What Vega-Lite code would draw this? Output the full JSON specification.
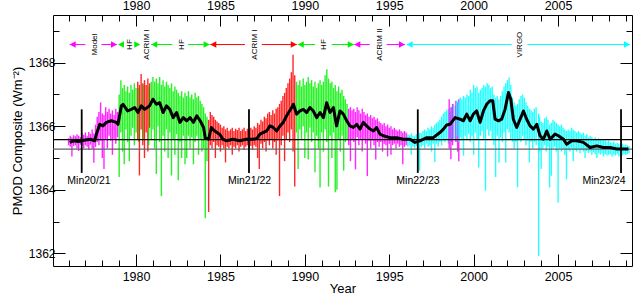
{
"$schema": "https://vega.github.io/schema/vega-lite/v6.json",
"width": 579, "height": 251,
"autosize": {"type": "none"},
"padding": {"left": 53, "top": 15, "right": 2, "bottom": 31},
"background": "white",
"config": {"view": {"stroke": null}, "axis": {"grid": false, "domainColor": "black", "tickColor": "black", "labelColor": "black", "titleColor": "black", "labelFont": "Liberation Sans", "titleFont": "Liberation Sans", "titleFontWeight": "normal", "labelFlush": false}, "text": {"font": "Liberation Sans"}},
"datasets": {
"ts": [
{"t":1976.0,"lo":1365.40,"hi":1365.62,"c":"M"},{"t":1976.1,"lo":1365.35,"hi":1365.70,"c":"M"},{"t":1976.2,"lo":1365.05,"hi":1365.65,"c":"M"},{"t":1976.3,"lo":1365.38,"hi":1365.72,"c":"M"},{"t":1976.4,"lo":1365.40,"hi":1365.68,"c":"M"},{"t":1976.5,"lo":1365.30,"hi":1365.75,"c":"M"},{"t":1976.6,"lo":1365.22,"hi":1365.70,"c":"M"},{"t":1976.7,"lo":1365.42,"hi":1365.66,"c":"M"},{"t":1976.8,"lo":1365.38,"hi":1365.78,"c":"M"},{"t":1976.9,"lo":1365.30,"hi":1365.72,"c":"M"},
{"t":1977.0,"lo":1365.40,"hi":1365.80,"c":"M"},{"t":1977.1,"lo":1365.35,"hi":1365.70,"c":"M"},{"t":1977.2,"lo":1365.25,"hi":1365.82,"c":"M"},{"t":1977.3,"lo":1365.42,"hi":1365.76,"c":"M"},{"t":1977.4,"lo":1365.30,"hi":1365.90,"c":"M"},{"t":1977.5,"lo":1364.85,"hi":1365.78,"c":"M"},{"t":1977.6,"lo":1365.35,"hi":1366.05,"c":"M"},{"t":1977.7,"lo":1365.50,"hi":1366.30,"c":"M"},{"t":1977.8,"lo":1365.40,"hi":1366.45,"c":"M"},{"t":1977.9,"lo":1365.55,"hi":1366.75,"c":"M"},
{"t":1978.0,"lo":1365.00,"hi":1366.40,"c":"M"},{"t":1978.1,"lo":1364.65,"hi":1366.35,"c":"M"},{"t":1978.2,"lo":1365.60,"hi":1366.60,"c":"M"},{"t":1978.3,"lo":1365.30,"hi":1366.45,"c":"M"},{"t":1978.4,"lo":1365.70,"hi":1366.55,"c":"M"},{"t":1978.5,"lo":1365.55,"hi":1366.40,"c":"M"},{"t":1978.6,"lo":1365.10,"hi":1366.50,"c":"M"},{"t":1978.7,"lo":1365.60,"hi":1366.35,"c":"M"},{"t":1978.8,"lo":1365.45,"hi":1366.55,"c":"M"},{"t":1978.9,"lo":1365.65,"hi":1366.45,"c":"M"},
{"t":1979.0,"lo":1364.40,"hi":1367.00,"c":"H"},{"t":1979.1,"lo":1365.80,"hi":1367.45,"c":"H"},{"t":1979.2,"lo":1365.20,"hi":1367.20,"c":"H"},{"t":1979.3,"lo":1364.80,"hi":1367.30,"c":"H"},{"t":1979.4,"lo":1365.90,"hi":1367.10,"c":"H"},{"t":1979.5,"lo":1365.50,"hi":1367.25,"c":"H"},{"t":1979.6,"lo":1364.90,"hi":1367.05,"c":"H"},{"t":1979.7,"lo":1365.70,"hi":1367.30,"c":"H"},{"t":1979.8,"lo":1365.95,"hi":1367.15,"c":"H"},{"t":1979.9,"lo":1365.40,"hi":1367.35,"c":"H"},
{"t":1980.0,"lo":1365.80,"hi":1367.20,"c":"H"},{"t":1980.1,"lo":1365.60,"hi":1367.40,"c":"A"},{"t":1980.15,"lo":1365.50,"hi":1367.20,"c":"H"},{"t":1980.2,"lo":1364.45,"hi":1367.30,"c":"A"},{"t":1980.3,"lo":1365.90,"hi":1367.64,"c":"A"},{"t":1980.4,"lo":1365.40,"hi":1367.35,"c":"A"},{"t":1980.45,"lo":1365.60,"hi":1367.30,"c":"H"},{"t":1980.5,"lo":1365.00,"hi":1367.45,"c":"A"},{"t":1980.6,"lo":1365.80,"hi":1367.30,"c":"A"},{"t":1980.7,"lo":1365.20,"hi":1367.50,"c":"A"},{"t":1980.75,"lo":1365.40,"hi":1367.25,"c":"H"},{"t":1980.8,"lo":1365.95,"hi":1367.35,"c":"A"},{"t":1980.9,"lo":1365.60,"hi":1367.40,"c":"H"},
{"t":1981.0,"lo":1365.90,"hi":1367.55,"c":"H"},{"t":1981.1,"lo":1365.30,"hi":1367.40,"c":"H"},{"t":1981.2,"lo":1364.50,"hi":1367.50,"c":"H"},{"t":1981.3,"lo":1366.00,"hi":1367.35,"c":"H"},{"t":1981.4,"lo":1365.50,"hi":1367.55,"c":"H"},{"t":1981.5,"lo":1363.80,"hi":1367.30,"c":"H"},{"t":1981.6,"lo":1365.70,"hi":1367.45,"c":"H"},{"t":1981.7,"lo":1365.20,"hi":1367.25,"c":"H"},{"t":1981.8,"lo":1365.90,"hi":1367.40,"c":"H"},{"t":1981.9,"lo":1365.00,"hi":1367.30,"c":"H"},
{"t":1982.0,"lo":1365.80,"hi":1367.20,"c":"H"},{"t":1982.1,"lo":1364.45,"hi":1367.35,"c":"H"},{"t":1982.2,"lo":1365.60,"hi":1367.10,"c":"H"},{"t":1982.3,"lo":1365.10,"hi":1367.25,"c":"H"},{"t":1982.4,"lo":1365.75,"hi":1367.15,"c":"H"},{"t":1982.5,"lo":1364.30,"hi":1367.05,"c":"H"},{"t":1982.6,"lo":1365.50,"hi":1366.95,"c":"H"},{"t":1982.7,"lo":1365.00,"hi":1367.10,"c":"H"},{"t":1982.8,"lo":1365.70,"hi":1366.90,"c":"H"},{"t":1982.9,"lo":1364.80,"hi":1367.05,"c":"H"},
{"t":1983.0,"lo":1365.00,"hi":1366.95,"c":"H"},{"t":1983.1,"lo":1365.70,"hi":1367.10,"c":"H"},{"t":1983.2,"lo":1365.30,"hi":1366.90,"c":"H"},{"t":1983.3,"lo":1365.65,"hi":1367.00,"c":"H"},{"t":1983.4,"lo":1364.80,"hi":1366.85,"c":"H"},{"t":1983.5,"lo":1365.50,"hi":1367.05,"c":"H"},{"t":1983.6,"lo":1365.70,"hi":1366.90,"c":"H"},{"t":1983.7,"lo":1365.10,"hi":1366.95,"c":"H"},{"t":1983.8,"lo":1365.60,"hi":1366.80,"c":"H"},{"t":1983.9,"lo":1365.20,"hi":1366.70,"c":"H"},
{"t":1984.0,"lo":1365.30,"hi":1366.60,"c":"H"},{"t":1984.1,"lo":1363.10,"hi":1366.40,"c":"H"},{"t":1984.2,"lo":1364.90,"hi":1366.30,"c":"H"},{"t":1984.3,"lo":1363.30,"hi":1366.20,"c":"A"},{"t":1984.4,"lo":1365.40,"hi":1366.45,"c":"A"},{"t":1984.5,"lo":1365.30,"hi":1366.35,"c":"A"},{"t":1984.6,"lo":1365.50,"hi":1366.30,"c":"A"},{"t":1984.7,"lo":1365.00,"hi":1366.20,"c":"A"},{"t":1984.8,"lo":1365.40,"hi":1366.15,"c":"A"},{"t":1984.9,"lo":1365.35,"hi":1366.10,"c":"A"},
{"t":1985.0,"lo":1365.20,"hi":1366.05,"c":"A"},{"t":1985.1,"lo":1365.40,"hi":1365.95,"c":"A"},{"t":1985.2,"lo":1365.30,"hi":1366.00,"c":"A"},{"t":1985.3,"lo":1364.86,"hi":1365.90,"c":"A"},{"t":1985.4,"lo":1365.35,"hi":1365.95,"c":"A"},{"t":1985.5,"lo":1365.30,"hi":1365.85,"c":"A"},{"t":1985.6,"lo":1365.40,"hi":1365.90,"c":"A"},{"t":1985.7,"lo":1365.10,"hi":1365.95,"c":"A"},{"t":1985.8,"lo":1365.35,"hi":1365.85,"c":"A"},{"t":1985.9,"lo":1365.30,"hi":1365.92,"c":"A"},
{"t":1986.0,"lo":1365.40,"hi":1365.88,"c":"A"},{"t":1986.1,"lo":1365.20,"hi":1365.95,"c":"A"},{"t":1986.2,"lo":1365.35,"hi":1365.85,"c":"A"},{"t":1986.3,"lo":1365.40,"hi":1365.90,"c":"A"},{"t":1986.4,"lo":1365.25,"hi":1365.95,"c":"A"},{"t":1986.5,"lo":1365.35,"hi":1365.85,"c":"A"},{"t":1986.6,"lo":1365.40,"hi":1365.92,"c":"A"},{"t":1986.7,"lo":1365.30,"hi":1365.88,"c":"A"},{"t":1986.8,"lo":1365.38,"hi":1365.95,"c":"A"},{"t":1986.9,"lo":1365.25,"hi":1365.90,"c":"A"},
{"t":1987.0,"lo":1365.40,"hi":1366.00,"c":"A"},{"t":1987.1,"lo":1365.35,"hi":1365.95,"c":"A"},{"t":1987.2,"lo":1365.00,"hi":1366.10,"c":"A"},{"t":1987.3,"lo":1364.65,"hi":1366.05,"c":"A"},{"t":1987.4,"lo":1365.45,"hi":1366.20,"c":"A"},{"t":1987.5,"lo":1365.30,"hi":1366.15,"c":"A"},{"t":1987.6,"lo":1365.50,"hi":1366.30,"c":"A"},{"t":1987.7,"lo":1365.20,"hi":1366.25,"c":"A"},{"t":1987.8,"lo":1365.55,"hi":1366.40,"c":"A"},{"t":1987.9,"lo":1365.40,"hi":1366.45,"c":"A"},
{"t":1988.0,"lo":1365.60,"hi":1366.35,"c":"A"},{"t":1988.1,"lo":1365.30,"hi":1366.50,"c":"A"},{"t":1988.2,"lo":1365.50,"hi":1366.40,"c":"A"},{"t":1988.3,"lo":1365.10,"hi":1366.55,"c":"A"},{"t":1988.4,"lo":1365.55,"hi":1366.60,"c":"A"},{"t":1988.5,"lo":1363.80,"hi":1366.70,"c":"A"},{"t":1988.6,"lo":1365.40,"hi":1366.80,"c":"A"},{"t":1988.7,"lo":1365.70,"hi":1366.95,"c":"A"},{"t":1988.8,"lo":1364.90,"hi":1367.05,"c":"A"},{"t":1988.9,"lo":1365.60,"hi":1367.20,"c":"A"},
{"t":1989.0,"lo":1365.80,"hi":1367.35,"c":"A"},{"t":1989.1,"lo":1365.50,"hi":1367.50,"c":"A"},{"t":1989.2,"lo":1365.90,"hi":1367.70,"c":"A"},{"t":1989.3,"lo":1365.20,"hi":1368.25,"c":"A"},{"t":1989.4,"lo":1364.10,"hi":1367.60,"c":"A"},{"t":1989.5,"lo":1365.80,"hi":1367.40,"c":"H"},{"t":1989.6,"lo":1364.65,"hi":1367.30,"c":"H"},{"t":1989.7,"lo":1365.90,"hi":1367.45,"c":"H"},{"t":1989.8,"lo":1365.60,"hi":1367.25,"c":"H"},{"t":1989.9,"lo":1366.00,"hi":1367.50,"c":"H"},
{"t":1990.0,"lo":1365.00,"hi":1367.30,"c":"H"},{"t":1990.1,"lo":1365.80,"hi":1367.40,"c":"H"},{"t":1990.2,"lo":1364.95,"hi":1367.55,"c":"H"},{"t":1990.3,"lo":1365.95,"hi":1367.35,"c":"H"},{"t":1990.4,"lo":1365.50,"hi":1367.45,"c":"H"},{"t":1990.5,"lo":1365.80,"hi":1367.25,"c":"H"},{"t":1990.6,"lo":1364.55,"hi":1367.40,"c":"H"},{"t":1990.7,"lo":1365.70,"hi":1367.20,"c":"H"},{"t":1990.8,"lo":1365.30,"hi":1367.35,"c":"H"},{"t":1990.9,"lo":1364.07,"hi":1367.45,"c":"H"},
{"t":1991.0,"lo":1365.80,"hi":1367.30,"c":"H"},{"t":1991.1,"lo":1365.20,"hi":1367.40,"c":"H"},{"t":1991.2,"lo":1365.90,"hi":1367.60,"c":"H"},{"t":1991.3,"lo":1365.50,"hi":1367.79,"c":"H"},{"t":1991.4,"lo":1364.10,"hi":1367.50,"c":"H"},{"t":1991.5,"lo":1365.70,"hi":1367.35,"c":"H"},{"t":1991.6,"lo":1365.00,"hi":1367.40,"c":"H"},{"t":1991.7,"lo":1365.80,"hi":1367.20,"c":"H"},{"t":1991.8,"lo":1363.92,"hi":1367.30,"c":"H"},{"t":1991.9,"lo":1364.00,"hi":1367.10,"c":"H"},
{"t":1992.0,"lo":1365.60,"hi":1367.25,"c":"H"},{"t":1992.1,"lo":1365.20,"hi":1367.05,"c":"H"},{"t":1992.2,"lo":1365.70,"hi":1367.15,"c":"H"},{"t":1992.3,"lo":1364.60,"hi":1366.95,"c":"H"},{"t":1992.4,"lo":1365.50,"hi":1366.85,"c":"H"},{"t":1992.5,"lo":1365.60,"hi":1366.70,"c":"H"},{"t":1992.6,"lo":1365.40,"hi":1366.55,"c":"M"},{"t":1992.7,"lo":1364.90,"hi":1366.60,"c":"M"},{"t":1992.8,"lo":1365.60,"hi":1366.50,"c":"M"},{"t":1992.9,"lo":1365.50,"hi":1366.55,"c":"M"},
{"t":1993.0,"lo":1364.64,"hi":1366.45,"c":"M"},{"t":1993.1,"lo":1365.65,"hi":1366.60,"c":"M"},{"t":1993.2,"lo":1365.40,"hi":1366.50,"c":"M"},{"t":1993.3,"lo":1365.60,"hi":1366.40,"c":"M"},{"t":1993.4,"lo":1365.20,"hi":1366.55,"c":"M"},{"t":1993.5,"lo":1365.60,"hi":1366.45,"c":"M"},{"t":1993.6,"lo":1365.45,"hi":1366.35,"c":"M"},{"t":1993.7,"lo":1364.43,"hi":1366.40,"c":"M"},{"t":1993.8,"lo":1365.55,"hi":1366.30,"c":"M"},{"t":1993.9,"lo":1365.30,"hi":1366.35,"c":"M"},
{"t":1994.0,"lo":1365.55,"hi":1366.25,"c":"M"},{"t":1994.1,"lo":1365.40,"hi":1366.30,"c":"M"},{"t":1994.2,"lo":1364.95,"hi":1366.20,"c":"M"},{"t":1994.3,"lo":1365.50,"hi":1366.25,"c":"M"},{"t":1994.4,"lo":1365.35,"hi":1366.15,"c":"M"},{"t":1994.5,"lo":1365.50,"hi":1366.10,"c":"M"},{"t":1994.6,"lo":1365.20,"hi":1366.05,"c":"M"},{"t":1994.7,"lo":1365.45,"hi":1366.10,"c":"M"},{"t":1994.8,"lo":1365.40,"hi":1366.00,"c":"M"},{"t":1994.9,"lo":1365.05,"hi":1366.05,"c":"M"},
{"t":1995.0,"lo":1365.45,"hi":1365.95,"c":"M"},{"t":1995.1,"lo":1365.10,"hi":1366.00,"c":"M"},{"t":1995.2,"lo":1365.40,"hi":1365.90,"c":"M"},{"t":1995.3,"lo":1365.45,"hi":1365.95,"c":"M"},{"t":1995.4,"lo":1365.30,"hi":1365.90,"c":"M"},{"t":1995.5,"lo":1365.45,"hi":1365.85,"c":"M"},{"t":1995.6,"lo":1365.35,"hi":1365.90,"c":"M"},{"t":1995.7,"lo":1365.40,"hi":1365.85,"c":"M"},{"t":1995.8,"lo":1364.80,"hi":1365.80,"c":"M"},{"t":1995.9,"lo":1365.35,"hi":1365.85,"c":"M"},
{"t":1996.0,"lo":1365.40,"hi":1365.80,"c":"M"},{"t":1996.1,"lo":1365.35,"hi":1365.75,"c":"V"},{"t":1996.2,"lo":1365.40,"hi":1365.72,"c":"V"},{"t":1996.3,"lo":1365.10,"hi":1365.78,"c":"V"},{"t":1996.4,"lo":1365.35,"hi":1365.70,"c":"V"},{"t":1996.5,"lo":1365.30,"hi":1365.68,"c":"V"},{"t":1996.6,"lo":1365.38,"hi":1365.75,"c":"V"},{"t":1996.7,"lo":1365.25,"hi":1365.72,"c":"V"},{"t":1996.8,"lo":1364.60,"hi":1365.80,"c":"V"},{"t":1996.9,"lo":1365.35,"hi":1365.78,"c":"V"},
{"t":1997.0,"lo":1365.40,"hi":1365.85,"c":"V"},{"t":1997.1,"lo":1365.30,"hi":1365.90,"c":"V"},{"t":1997.2,"lo":1365.45,"hi":1365.85,"c":"V"},{"t":1997.3,"lo":1365.35,"hi":1365.95,"c":"V"},{"t":1997.4,"lo":1365.40,"hi":1365.90,"c":"V"},{"t":1997.5,"lo":1365.20,"hi":1366.00,"c":"V"},{"t":1997.6,"lo":1365.45,"hi":1365.95,"c":"V"},{"t":1997.7,"lo":1364.87,"hi":1366.05,"c":"V"},{"t":1997.8,"lo":1365.45,"hi":1366.10,"c":"V"},{"t":1997.9,"lo":1365.35,"hi":1366.15,"c":"V"},
{"t":1998.0,"lo":1365.50,"hi":1366.20,"c":"V"},{"t":1998.1,"lo":1365.40,"hi":1366.30,"c":"V"},{"t":1998.2,"lo":1365.55,"hi":1366.40,"c":"V"},{"t":1998.3,"lo":1365.50,"hi":1366.45,"c":"V"},{"t":1998.4,"lo":1365.60,"hi":1366.50,"c":"V"},{"t":1998.5,"lo":1365.45,"hi":1366.55,"c":"V"},{"t":1998.6,"lo":1365.65,"hi":1366.45,"c":"V"},{"t":1998.7,"lo":1365.50,"hi":1366.60,"c":"V"},{"t":1998.8,"lo":1365.60,"hi":1366.70,"c":"V"},{"t":1998.9,"lo":1365.55,"hi":1366.65,"c":"V"},
{"t":1998.55,"lo":1365.30,"hi":1366.85,"c":"M"},{"t":1998.65,"lo":1364.96,"hi":1366.60,"c":"M"},{"t":1998.75,"lo":1365.40,"hi":1366.70,"c":"M"},{"t":1998.95,"lo":1365.50,"hi":1366.80,"c":"M"},{"t":1999.05,"lo":1365.20,"hi":1366.75,"c":"M"},{"t":1999.12,"lo":1364.90,"hi":1366.85,"c":"M"},
{"t":1999.0,"lo":1365.70,"hi":1366.80,"c":"V"},{"t":1999.1,"lo":1365.50,"hi":1366.75,"c":"V"},{"t":1999.2,"lo":1365.65,"hi":1366.90,"c":"V"},{"t":1999.3,"lo":1365.55,"hi":1366.85,"c":"V"},{"t":1999.4,"lo":1365.07,"hi":1366.95,"c":"V"},{"t":1999.5,"lo":1365.70,"hi":1366.90,"c":"V"},{"t":1999.6,"lo":1365.60,"hi":1367.00,"c":"V"},{"t":1999.7,"lo":1365.75,"hi":1366.95,"c":"V"},{"t":1999.8,"lo":1365.50,"hi":1367.15,"c":"V"},{"t":1999.9,"lo":1365.70,"hi":1367.05,"c":"V"},
{"t":2000.0,"lo":1365.10,"hi":1367.30,"c":"V"},{"t":2000.1,"lo":1365.80,"hi":1367.20,"c":"V"},{"t":2000.2,"lo":1365.60,"hi":1367.25,"c":"V"},{"t":2000.3,"lo":1364.70,"hi":1367.05,"c":"V"},{"t":2000.4,"lo":1365.70,"hi":1367.15,"c":"V"},{"t":2000.5,"lo":1365.85,"hi":1367.20,"c":"V"},{"t":2000.6,"lo":1365.60,"hi":1367.30,"c":"V"},{"t":2000.7,"lo":1363.97,"hi":1367.25,"c":"V"},{"t":2000.8,"lo":1365.90,"hi":1367.35,"c":"V"},{"t":2000.9,"lo":1365.70,"hi":1367.30,"c":"V"},
{"t":2001.0,"lo":1365.85,"hi":1367.20,"c":"V"},{"t":2001.1,"lo":1365.60,"hi":1367.25,"c":"V"},{"t":2001.2,"lo":1365.40,"hi":1367.00,"c":"V"},{"t":2001.3,"lo":1364.40,"hi":1366.90,"c":"V"},{"t":2001.4,"lo":1365.70,"hi":1366.95,"c":"V"},{"t":2001.5,"lo":1364.86,"hi":1366.85,"c":"V"},{"t":2001.6,"lo":1365.65,"hi":1366.95,"c":"V"},{"t":2001.7,"lo":1365.50,"hi":1367.10,"c":"V"},{"t":2001.8,"lo":1365.80,"hi":1367.25,"c":"V"},{"t":2001.9,"lo":1364.86,"hi":1367.35,"c":"V"},
{"t":2002.0,"lo":1365.90,"hi":1367.45,"c":"V"},{"t":2002.1,"lo":1365.80,"hi":1367.53,"c":"V"},{"t":2002.2,"lo":1365.60,"hi":1367.30,"c":"V"},{"t":2002.3,"lo":1365.50,"hi":1366.90,"c":"V"},{"t":2002.4,"lo":1365.30,"hi":1366.75,"c":"V"},{"t":2002.5,"lo":1365.50,"hi":1366.65,"c":"V"},{"t":2002.6,"lo":1364.08,"hi":1366.70,"c":"V"},{"t":2002.7,"lo":1365.60,"hi":1366.85,"c":"V"},{"t":2002.8,"lo":1365.50,"hi":1366.95,"c":"V"},{"t":2002.9,"lo":1365.70,"hi":1367.00,"c":"V"},
{"t":2003.0,"lo":1365.60,"hi":1366.90,"c":"V"},{"t":2003.1,"lo":1365.40,"hi":1366.75,"c":"V"},{"t":2003.2,"lo":1365.55,"hi":1366.65,"c":"V"},{"t":2003.3,"lo":1364.86,"hi":1366.55,"c":"V"},{"t":2003.4,"lo":1365.50,"hi":1366.50,"c":"V"},{"t":2003.5,"lo":1365.30,"hi":1366.45,"c":"V"},{"t":2003.6,"lo":1365.50,"hi":1366.55,"c":"V"},{"t":2003.7,"lo":1365.40,"hi":1366.60,"c":"V"},{"t":2003.85,"lo":1361.91,"hi":1366.40,"c":"V"},{"t":2003.9,"lo":1365.20,"hi":1366.30,"c":"V"},
{"t":2004.0,"lo":1364.65,"hi":1366.15,"c":"V"},{"t":2004.1,"lo":1365.30,"hi":1366.10,"c":"V"},{"t":2004.2,"lo":1365.40,"hi":1366.25,"c":"V"},{"t":2004.3,"lo":1365.20,"hi":1366.30,"c":"V"},{"t":2004.4,"lo":1365.35,"hi":1366.20,"c":"V"},{"t":2004.5,"lo":1364.07,"hi":1366.05,"c":"V"},{"t":2004.6,"lo":1364.44,"hi":1366.10,"c":"V"},{"t":2004.7,"lo":1365.30,"hi":1366.20,"c":"V"},{"t":2004.8,"lo":1365.35,"hi":1366.15,"c":"V"},{"t":2004.9,"lo":1365.20,"hi":1366.10,"c":"V"},
{"t":2005.0,"lo":1363.60,"hi":1366.05,"c":"V"},{"t":2005.1,"lo":1365.30,"hi":1366.00,"c":"V"},{"t":2005.2,"lo":1365.20,"hi":1366.05,"c":"V"},{"t":2005.3,"lo":1365.30,"hi":1365.95,"c":"V"},{"t":2005.4,"lo":1365.10,"hi":1365.90,"c":"V"},{"t":2005.5,"lo":1364.33,"hi":1365.85,"c":"V"},{"t":2005.6,"lo":1365.25,"hi":1365.90,"c":"V"},{"t":2005.7,"lo":1365.20,"hi":1365.85,"c":"V"},{"t":2005.8,"lo":1365.30,"hi":1365.95,"c":"V"},{"t":2005.9,"lo":1364.90,"hi":1365.90,"c":"V"},
{"t":2006.0,"lo":1365.25,"hi":1365.85,"c":"V"},{"t":2006.1,"lo":1365.20,"hi":1365.80,"c":"V"},{"t":2006.2,"lo":1365.28,"hi":1365.85,"c":"V"},{"t":2006.3,"lo":1365.15,"hi":1365.80,"c":"V"},{"t":2006.4,"lo":1365.25,"hi":1365.75,"c":"V"},{"t":2006.5,"lo":1365.20,"hi":1365.80,"c":"V"},{"t":2006.6,"lo":1365.00,"hi":1365.70,"c":"V"},{"t":2006.7,"lo":1365.22,"hi":1365.75,"c":"V"},{"t":2006.8,"lo":1365.15,"hi":1365.65,"c":"V"},{"t":2006.9,"lo":1365.20,"hi":1365.70,"c":"V"},
{"t":2007.0,"lo":1365.10,"hi":1365.65,"c":"V"},{"t":2007.1,"lo":1365.18,"hi":1365.60,"c":"V"},{"t":2007.2,"lo":1365.12,"hi":1365.65,"c":"V"},{"t":2007.3,"lo":1365.00,"hi":1365.60,"c":"V"},{"t":2007.4,"lo":1365.15,"hi":1365.62,"c":"V"},{"t":2007.5,"lo":1365.10,"hi":1365.58,"c":"V"},{"t":2007.6,"lo":1365.15,"hi":1365.55,"c":"V"},{"t":2007.7,"lo":1365.05,"hi":1365.60,"c":"V"},{"t":2007.8,"lo":1365.12,"hi":1365.55,"c":"V"},{"t":2007.9,"lo":1365.08,"hi":1365.52,"c":"V"},
{"t":2008.0,"lo":1365.10,"hi":1365.55,"c":"V"},{"t":2008.1,"lo":1365.12,"hi":1365.50,"c":"V"},{"t":2008.2,"lo":1365.05,"hi":1365.48,"c":"V"},{"t":2008.3,"lo":1365.10,"hi":1365.52,"c":"V"},{"t":2008.4,"lo":1365.08,"hi":1365.45,"c":"V"},{"t":2008.5,"lo":1365.12,"hi":1365.48,"c":"V"},{"t":2008.6,"lo":1365.05,"hi":1365.45,"c":"V"},{"t":2008.7,"lo":1365.10,"hi":1365.42,"c":"V"},{"t":2008.8,"lo":1365.08,"hi":1365.45,"c":"V"},{"t":2008.9,"lo":1365.12,"hi":1365.40,"c":"V"},
{"t":2009.0,"lo":1365.10,"hi":1365.42,"c":"V"},{"t":2009.1,"lo":1365.12,"hi":1365.40,"c":"V"},{"t":2009.2,"lo":1365.15,"hi":1365.38,"c":"V"}
],
"sm": [
{"t":1976.07,"s":1365.49},{"t":1976.3,"s":1365.54},{"t":1976.6,"s":1365.52},{"t":1976.9,"s":1365.56},{"t":1977.3,"s":1365.59},{"t":1977.55,"s":1365.54},{"t":1977.65,"s":1365.75},{"t":1977.85,"s":1366.06},{"t":1978.04,"s":1366.01},{"t":1978.24,"s":1366.12},{"t":1978.54,"s":1366.17},{"t":1978.83,"s":1366.12},{"t":1978.93,"s":1366.06},
{"t":1979.13,"s":1366.64},{"t":1979.23,"s":1366.69},{"t":1979.5,"s":1366.48},{"t":1979.72,"s":1366.53},{"t":1979.92,"s":1366.59},{"t":1980.11,"s":1366.43},{"t":1980.31,"s":1366.64},{"t":1980.51,"s":1366.53},{"t":1980.8,"s":1366.64},{"t":1981.0,"s":1366.85},{"t":1981.2,"s":1366.69},{"t":1981.4,"s":1366.74},{"t":1981.6,"s":1366.43},{"t":1981.8,"s":1366.64},
{"t":1982.0,"s":1366.53},{"t":1982.2,"s":1366.27},{"t":1982.4,"s":1366.43},{"t":1982.6,"s":1366.12},{"t":1982.8,"s":1366.27},{"t":1983.0,"s":1366.17},{"t":1983.2,"s":1366.27},{"t":1983.4,"s":1366.12},{"t":1983.6,"s":1366.33},{"t":1983.8,"s":1366.17},{"t":1984.0,"s":1365.96},{"t":1984.1,"s":1365.64},{"t":1984.3,"s":1365.59},{"t":1984.46,"s":1365.96},{"t":1984.66,"s":1365.85},{"t":1984.95,"s":1365.75},
{"t":1985.15,"s":1365.59},{"t":1985.35,"s":1365.54},{"t":1985.74,"s":1365.59},{"t":1986.14,"s":1365.54},{"t":1986.53,"s":1365.59},{"t":1986.93,"s":1365.59},{"t":1987.15,"s":1365.61},{"t":1987.34,"s":1365.75},{"t":1987.74,"s":1365.85},{"t":1987.93,"s":1366.01},{"t":1988.13,"s":1365.96},{"t":1988.33,"s":1365.85},{"t":1988.53,"s":1366.01},{"t":1988.72,"s":1366.12},{"t":1988.92,"s":1366.33},
{"t":1989.22,"s":1366.59},{"t":1989.32,"s":1366.69},{"t":1989.51,"s":1366.38},{"t":1989.71,"s":1366.48},{"t":1989.91,"s":1366.53},{"t":1990.11,"s":1366.43},{"t":1990.3,"s":1366.59},{"t":1990.5,"s":1366.48},{"t":1990.7,"s":1366.27},{"t":1990.9,"s":1366.43},{"t":1991.1,"s":1366.27},{"t":1991.29,"s":1366.74},{"t":1991.49,"s":1366.43},{"t":1991.69,"s":1366.59},{"t":1991.88,"s":1366.01},
{"t":1992.08,"s":1366.48},{"t":1992.28,"s":1366.38},{"t":1992.48,"s":1366.17},{"t":1992.67,"s":1366.01},{"t":1992.87,"s":1365.96},{"t":1993.07,"s":1366.06},{"t":1993.27,"s":1365.91},{"t":1993.46,"s":1366.12},{"t":1993.66,"s":1366.01},{"t":1993.86,"s":1365.91},{"t":1994.06,"s":1365.85},{"t":1994.25,"s":1365.96},{"t":1994.45,"s":1365.75},{"t":1994.65,"s":1365.70},
{"t":1995.04,"s":1365.64},{"t":1995.44,"s":1365.64},{"t":1995.83,"s":1365.59},{"t":1996.23,"s":1365.59},{"t":1996.52,"s":1365.49},{"t":1996.82,"s":1365.54},{"t":1997.22,"s":1365.64},{"t":1997.61,"s":1365.64},{"t":1998.0,"s":1365.80},{"t":1998.21,"s":1365.91},{"t":1998.4,"s":1366.04},{"t":1998.6,"s":1366.06},{"t":1998.9,"s":1366.27},
{"t":1999.2,"s":1366.22},{"t":1999.39,"s":1366.17},{"t":1999.59,"s":1366.38},{"t":1999.79,"s":1366.17},{"t":1999.98,"s":1366.38},{"t":2000.18,"s":1366.48},{"t":2000.38,"s":1366.12},{"t":2000.58,"s":1366.48},{"t":2000.77,"s":1366.69},{"t":2000.97,"s":1366.80},{"t":2001.13,"s":1366.80},{"t":2001.27,"s":1366.22},{"t":2001.47,"s":1366.17},{"t":2001.66,"s":1366.22},{"t":2001.86,"s":1366.53},
{"t":2002.06,"s":1367.06},{"t":2002.2,"s":1366.85},{"t":2002.35,"s":1366.22},{"t":2002.55,"s":1365.96},{"t":2002.75,"s":1366.22},{"t":2002.95,"s":1366.48},{"t":2003.14,"s":1366.22},{"t":2003.34,"s":1366.01},{"t":2003.54,"s":1365.91},{"t":2003.74,"s":1366.06},{"t":2003.93,"s":1365.70},{"t":2004.13,"s":1365.59},{"t":2004.33,"s":1365.85},{"t":2004.53,"s":1365.59},{"t":2004.82,"s":1365.75},
{"t":2005.02,"s":1365.70},{"t":2005.32,"s":1365.59},{"t":2005.51,"s":1365.43},{"t":2005.81,"s":1365.54},{"t":2006.1,"s":1365.54},{"t":2006.5,"s":1365.49},{"t":2006.9,"s":1365.33},{"t":2007.29,"s":1365.38},{"t":2007.69,"s":1365.33},{"t":2008.08,"s":1365.33},{"t":2008.48,"s":1365.28},{"t":2008.87,"s":1365.28},{"t":2009.17,"s":1365.28}
],
"hl": [{"v":1365.58,"k":"a"},{"v":1365.28,"k":"b"}],
"mins": [
{"x":1976.78,"y1":1366.53,"y2":1364.53,"lx":1977.21,"ly":1364.27,"lab":"Min20/21"},
{"x":1986.69,"y1":1366.53,"y2":1364.53,"lx":1986.72,"ly":1364.27,"lab":"Min21/22"},
{"x":1996.69,"y1":1366.53,"y2":1364.53,"lx":1996.70,"ly":1364.27,"lab":"Min22/23"},
{"x":2008.73,"y1":1366.53,"y2":1364.53,"lx":2007.72,"ly":1364.27,"lab":"Min23/24"}
],
"seg": [
{"x1":1976.07,"x2":1977.0,"c":"M"},{"x1":1977.95,"x2":1978.87,"c":"M"},
{"x1":1980.9,"x2":1982.15,"c":"H"},{"x1":1983.08,"x2":1984.36,"c":"H"},
{"x1":1984.4,"x2":1986.45,"c":"A"},{"x1":1987.45,"x2":1989.52,"c":"A"},
{"x1":1989.58,"x2":1990.6,"c":"H"},{"x1":1991.59,"x2":1992.9,"c":"H"},
{"x1":1992.93,"x2":1993.85,"c":"M"},{"x1":1994.85,"x2":1995.93,"c":"M"},
{"x1":1996.03,"x2":2002.25,"c":"V"},{"x1":2003.18,"x2":2009.26,"c":"V"}
],
"tri": [
{"x":1976.07,"d":"L","c":"M"},{"x":1978.87,"d":"R","c":"M"},
{"x":1978.93,"d":"L","c":"H"},{"x":1980.25,"d":"R","c":"H"},
{"x":1980.9,"d":"L","c":"H"},{"x":1984.36,"d":"R","c":"H"},
{"x":1984.4,"d":"L","c":"A"},{"x":1989.52,"d":"R","c":"A"},
{"x":1989.58,"d":"L","c":"H"},{"x":1992.9,"d":"R","c":"H"},
{"x":1992.93,"d":"L","c":"M"},{"x":1995.93,"d":"R","c":"M"},
{"x":1996.03,"d":"L","c":"V"},{"x":2009.26,"d":"R","c":"V"}
],
"alab": [
{"x":1977.55,"txt":"Model"},{"x":1979.62,"txt":"HF"},{"x":1980.67,"txt":"ACRIM I"},{"x":1982.74,"txt":"HF"},{"x":1987.05,"txt":"ACRIM I"},{"x":1991.13,"txt":"HF"},{"x":1994.45,"txt":"ACRIM II"},{"x":2002.75,"txt":"VIRGO"}
]
},
"resolve": {"axis": {"x": "independent", "y": "independent"}},
"layer": [
{"data": {"name": "ts"}, "mark": {"type": "rule", "strokeWidth": 1.4, "opacity": 0.85},
 "encoding": {
  "x": {"field": "t", "type": "quantitative", "scale": {"domain": [1975.08, 2009.38], "nice": false, "zero": false},
        "axis": {"orient": "bottom", "values": [1980,1985,1990,1995,2000,2005], "format": "d", "tickSize": -12, "labelFontSize": 12.5, "labelPadding": 16, "title": "Year", "titleFontSize": 13, "titlePadding": 0}},
  "y": {"field": "lo", "type": "quantitative", "scale": {"domain": [1361.6, 1369.5], "nice": false, "zero": false},
        "axis": {"orient": "left", "values": [1362,1364,1366,1368], "format": "d", "tickSize": -12, "labelFontSize": 12, "labelPadding": 10, "title": "PMOD Composite (Wm⁻²)", "titleFontSize": 13, "titlePadding": 4}},
  "y2": {"field": "hi"},
  "color": {"field": "c", "type": "nominal", "scale": {"domain": ["M","H","A","V"], "range": ["#ff00ff","#00f000","#ff0000","#00ffff"]}, "legend": null}
 }},
{"data": {"name": "hl"}, "mark": {"type": "rule", "strokeWidth": 1.2},
 "encoding": {
  "y": {"field": "v", "type": "quantitative", "scale": {"domain": [1361.6, 1369.5], "nice": false, "zero": false}, "axis": null},
  "stroke": {"field": "k", "type": "nominal", "scale": {"domain": ["a","b"], "range": ["#000000","#606060"]}, "legend": null}
 }},
{"data": {"name": "sm"}, "mark": {"type": "line", "color": "black", "strokeWidth": 3, "strokeJoin": "round"},
 "encoding": {
  "x": {"field": "t", "type": "quantitative", "scale": {"domain": [1975.08, 2009.38], "nice": false, "zero": false},
        "axis": {"orient": "top", "values": [1980,1985,1990,1995,2000,2005], "format": "d", "tickSize": -11, "labelFontSize": 12.5, "labelPadding": 14, "title": null}},
  "y": {"field": "s", "type": "quantitative", "scale": {"domain": [1361.6, 1369.5], "nice": false, "zero": false},
        "axis": {"orient": "right", "values": [1362,1364,1366,1368], "tickSize": -12, "labels": false, "title": null}}
 }},
{"data": {"name": "mins"}, "mark": {"type": "rule", "color": "black", "strokeWidth": 1.8},
 "encoding": {
  "x": {"field": "x", "type": "quantitative", "scale": {"domain": [1975.08, 2009.38], "nice": false, "zero": false},
        "axis": {"orient": "bottom", "values": [1976,1977,1978,1979,1980,1981,1982,1983,1984,1985,1986,1987,1988,1989,1990,1991,1992,1993,1994,1995,1996,1997,1998,1999,2000,2001,2002,2003,2004,2005,2006,2007,2008,2009], "tickSize": -6, "labels": false, "domain": false, "title": null}},
  "y": {"field": "y1", "type": "quantitative", "scale": {"domain": [1361.6, 1369.5], "nice": false, "zero": false},
        "axis": {"orient": "left", "values": [1363,1365,1367,1369], "tickSize": -6, "labels": false, "domain": false, "title": null}},
  "y2": {"field": "y2"}
 }},
{"data": {"name": "mins"}, "mark": {"type": "text", "fontSize": 10.5, "color": "black", "baseline": "middle", "align": "center"},
 "encoding": {
  "x": {"field": "lx", "type": "quantitative", "scale": {"domain": [1975.08, 2009.38], "nice": false, "zero": false},
        "axis": {"orient": "top", "values": [1976,1977,1978,1979,1980,1981,1982,1983,1984,1985,1986,1987,1988,1989,1990,1991,1992,1993,1994,1995,1996,1997,1998,1999,2000,2001,2002,2003,2004,2005,2006,2007,2008,2009], "tickSize": -6, "labels": false, "domain": false, "title": null}},
  "y": {"field": "ly", "type": "quantitative", "scale": {"domain": [1361.6, 1369.5], "nice": false, "zero": false},
        "axis": {"orient": "right", "values": [1363,1365,1367,1369], "tickSize": -6, "labels": false, "domain": false, "title": null}},
  "text": {"field": "lab"}
 }},
{"data": {"name": "seg"}, "mark": {"type": "rule", "strokeWidth": 1},
 "encoding": {
  "x": {"field": "x1", "type": "quantitative", "scale": {"domain": [1975.08, 2009.38], "nice": false, "zero": false}, "axis": null},
  "x2": {"field": "x2"},
  "y": {"datum": 1368.57, "type": "quantitative", "scale": {"domain": [1361.6, 1369.5], "nice": false, "zero": false}, "axis": null},
  "color": {"field": "c", "type": "nominal", "scale": {"domain": ["M","H","A","V"], "range": ["#ff00ff","#00f000","#ff0000","#00ffff"]}, "legend": null}
 }},
{"data": {"name": "tri"}, "mark": {"type": "point", "filled": true, "opacity": 1, "size": 36, "strokeWidth": 0},
 "encoding": {
  "x": {"field": "x", "type": "quantitative", "scale": {"domain": [1975.08, 2009.38], "nice": false, "zero": false}, "axis": null},
  "y": {"datum": 1368.57, "type": "quantitative", "scale": {"domain": [1361.6, 1369.5], "nice": false, "zero": false}, "axis": null},
  "shape": {"field": "d", "type": "nominal", "scale": {"domain": ["L","R"], "range": ["M0,0L2,-1.1L2,1.1Z","M0,0L-2,-1.1L-2,1.1Z"]}, "legend": null},
  "color": {"field": "c", "type": "nominal", "scale": {"domain": ["M","H","A","V"], "range": ["#ff00ff","#00f000","#ff0000","#00ffff"]}, "legend": null}
 }},
{"data": {"name": "alab"}, "mark": {"type": "text", "fontSize": 8, "angle": 270, "color": "black", "baseline": "middle", "align": "center"},
 "encoding": {
  "x": {"field": "x", "type": "quantitative", "scale": {"domain": [1975.08, 2009.38], "nice": false, "zero": false}, "axis": null},
  "y": {"datum": 1368.57, "type": "quantitative", "scale": {"domain": [1361.6, 1369.5], "nice": false, "zero": false}, "axis": null},
  "text": {"field": "txt"}
 }}
]
}
